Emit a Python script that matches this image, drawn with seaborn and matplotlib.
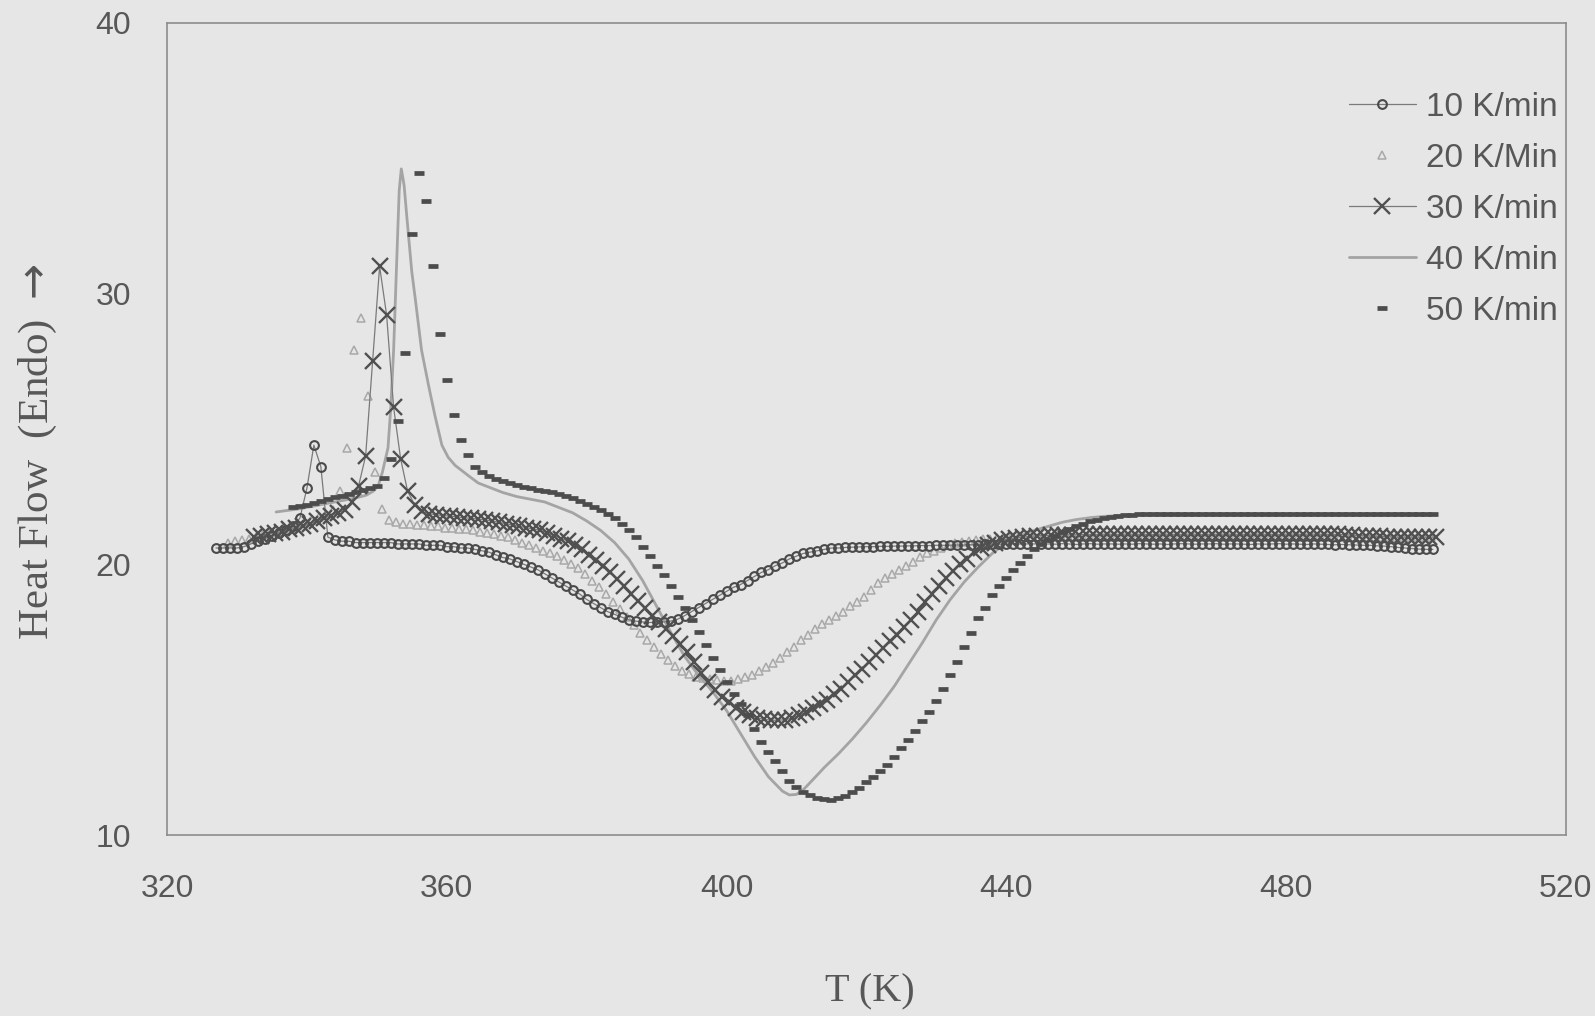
import numpy as np
import pandas as pd
import matplotlib
matplotlib.use("Agg")
import matplotlib.pyplot as plt
import seaborn as sns

# ---------------------------------------------------------------
# DSC heat-flow curves at five heating rates (1 K sampling step)
# ---------------------------------------------------------------
T0_10 = 327.0
hf_10 = [
    20.6, 20.6, 20.6, 20.6, 20.65, 20.75, 20.85, 20.95, 21.05, 21.15,
    21.25, 21.4, 21.7, 22.8, 24.4, 23.6, 21.0, 20.9, 20.85, 20.85,
    20.8, 20.8, 20.8, 20.8, 20.8, 20.8, 20.75, 20.75, 20.75, 20.75,
    20.7, 20.7, 20.7, 20.65, 20.65, 20.6, 20.6, 20.55, 20.5, 20.45,
    20.35, 20.25, 20.2, 20.1, 20.0, 19.9, 19.8, 19.65, 19.5, 19.35,
    19.2, 19.05, 18.9, 18.7, 18.55, 18.4, 18.25, 18.15, 18.05, 17.95,
    17.9, 17.87, 17.85, 17.85, 17.87, 17.9, 17.97, 18.1, 18.25, 18.4,
    18.55, 18.7, 18.85, 19.0, 19.15, 19.25, 19.4, 19.55, 19.7, 19.8,
    19.95, 20.05, 20.2, 20.3, 20.4, 20.45, 20.5, 20.55, 20.6, 20.6,
    20.62, 20.63, 20.64, 20.65, 20.65, 20.66, 20.66, 20.67, 20.67, 20.68,
    20.68, 20.69, 20.69, 20.7, 20.7, 20.7, 20.71, 20.71, 20.72, 20.72,
    20.73, 20.73, 20.74, 20.74, 20.75, 20.75, 20.75, 20.75, 20.75, 20.75,
    20.74, 20.76, 20.75, 20.73, 20.75, 20.76, 20.74, 20.75, 20.75, 20.74,
    20.75, 20.74, 20.76, 20.75, 20.74, 20.75, 20.73, 20.75, 20.76, 20.75,
    20.74, 20.75, 20.75, 20.76, 20.74, 20.75, 20.75, 20.74, 20.73, 20.75,
    20.74, 20.75, 20.76, 20.74, 20.75, 20.74, 20.73, 20.75, 20.74, 20.73,
    20.72, 20.73, 20.72, 20.71, 20.7, 20.7, 20.68, 20.67, 20.65, 20.62,
    20.6, 20.58, 20.56, 20.55, 20.55,
]

T0_20 = 328.7
hf_20 = [
    20.8, 20.85, 20.9, 20.95, 21.0, 21.1, 21.15, 21.2, 21.3, 21.35,
    21.45, 21.55, 21.65, 21.75, 21.85, 22.0, 22.7, 24.3, 27.9, 29.1,
    26.2, 23.4, 22.05, 21.65, 21.55, 21.5, 21.5, 21.45, 21.45, 21.4,
    21.4, 21.35, 21.35, 21.3, 21.3, 21.25, 21.2, 21.15, 21.1, 21.05,
    21.0, 20.9, 20.8, 20.7, 20.6, 20.5, 20.4, 20.3, 20.15, 20.0,
    19.85, 19.65, 19.4, 19.15, 18.9, 18.6, 18.35, 18.05, 17.75, 17.45,
    17.2, 16.95, 16.7, 16.45, 16.25, 16.05, 15.95, 15.85, 15.8, 15.75,
    15.72, 15.7, 15.7, 15.75, 15.82, 15.92, 16.05, 16.2, 16.35, 16.55,
    16.75, 16.95, 17.2, 17.4, 17.6, 17.8, 17.95, 18.1, 18.25, 18.45,
    18.6, 18.8, 19.05, 19.3, 19.5, 19.65, 19.8, 19.95, 20.1, 20.25,
    20.4, 20.5, 20.6, 20.7, 20.78, 20.83, 20.87, 20.9, 20.93, 20.95,
    20.97, 20.98, 21.0, 21.0, 21.01, 21.0, 21.02, 21.0, 21.01, 21.0,
    21.0, 21.01, 20.99, 21.0, 21.02, 21.0, 21.01, 21.0, 20.99, 21.0,
    21.01, 21.0, 21.0, 21.02, 21.0, 20.99, 21.0, 21.01, 21.0, 21.0,
    21.0, 21.01, 21.0, 20.99, 21.0, 21.01, 21.0, 21.0, 21.02, 21.0,
    21.0, 21.01, 21.0, 21.0, 20.99, 21.0, 21.01, 21.0, 21.0, 21.0,
    21.01, 21.0, 20.99, 21.0, 21.0, 21.0, 21.0, 21.0, 21.0, 21.0,
    21.0, 21.0, 21.0,
]

T0_30 = 332.4
hf_30 = [
    21.0, 21.05, 21.1, 21.15, 21.2, 21.3, 21.35, 21.4, 21.5, 21.6,
    21.7, 21.8, 21.9, 22.0, 22.3, 22.9, 24.0, 27.5, 31.0, 29.2,
    25.8, 23.9, 22.7, 22.2, 21.95, 21.87, 21.83, 21.8, 21.78, 21.75,
    21.72, 21.7, 21.67, 21.64, 21.6, 21.55, 21.5, 21.45, 21.4, 21.35,
    21.3, 21.25, 21.15, 21.05, 20.95, 20.85, 20.7, 20.55, 20.35, 20.15,
    19.95, 19.7, 19.45, 19.2, 18.9, 18.65, 18.4, 18.1, 17.85, 17.6,
    17.35, 17.05, 16.75, 16.4, 16.0, 15.65, 15.35, 15.1, 14.9, 14.7,
    14.55, 14.42, 14.33, 14.27, 14.24, 14.24, 14.26, 14.32, 14.42, 14.55,
    14.7, 14.85, 15.0, 15.2, 15.4, 15.65, 15.9, 16.15, 16.4, 16.65,
    16.9, 17.15, 17.4, 17.7, 17.95, 18.25, 18.6, 18.9, 19.2, 19.5,
    19.75, 20.0, 20.2, 20.45, 20.6, 20.7, 20.8, 20.88, 20.93, 20.97,
    21.0, 21.03, 21.05, 21.06, 21.07, 21.08, 21.08, 21.09, 21.09, 21.1,
    21.1, 21.1, 21.11, 21.1, 21.1, 21.12, 21.1, 21.11, 21.1, 21.1,
    21.12, 21.1, 21.11, 21.1, 21.12, 21.1, 21.1, 21.11, 21.1, 21.12,
    21.1, 21.11, 21.1, 21.12, 21.1, 21.11, 21.1, 21.1, 21.12, 21.11,
    21.1, 21.12, 21.1, 21.11, 21.1, 21.1, 21.09, 21.08, 21.06, 21.05,
    21.04, 21.03, 21.02, 21.0, 21.0, 21.0, 21.0, 21.0, 21.0, 21.0,
]

T_40 = [
    335.6, 337.0, 339.0, 341.0, 343.0, 345.0, 347.0, 348.5, 349.5, 350.2,
    350.8, 351.6, 352.0, 352.4, 352.9, 353.2, 353.5, 353.9, 354.3, 355.0,
    355.5, 356.4, 357.4, 358.3, 359.3, 360.2, 361.2, 362.2, 363.2, 364.5,
    366.0, 368.0, 370.0, 372.0, 374.0, 376.0, 378.0, 380.0, 382.0, 384.0,
    386.0, 388.0, 390.0, 392.0, 394.0, 396.0, 398.0, 400.0, 402.0, 404.0,
    406.0, 408.0, 409.0, 410.0, 411.0, 412.0, 414.0, 416.0, 418.0, 420.0,
    422.0, 424.0, 426.0, 428.0, 430.0, 432.0, 434.0, 436.0, 438.0, 440.0,
    442.0, 444.0, 446.0, 448.0, 450.0, 452.0, 454.0, 458.0, 465.0, 480.0,
    501.0,
]
hf_40 = [
    21.93, 21.98, 22.05, 22.15, 22.25, 22.35, 22.45, 22.55, 22.7, 22.9,
    23.4, 24.3, 25.8, 27.9, 31.6, 33.8, 34.6, 34.0, 32.8, 30.8,
    29.8, 27.9, 26.6, 25.5, 24.4, 23.95, 23.65, 23.45, 23.25, 23.0,
    22.85, 22.65, 22.5, 22.4, 22.3, 22.1, 21.9, 21.6, 21.25, 20.8,
    20.2, 19.4, 18.45, 17.5, 16.6, 15.9, 15.3, 14.6, 13.75, 12.9,
    12.15, 11.62, 11.48, 11.5, 11.68, 11.95, 12.5, 13.0, 13.55, 14.15,
    14.8, 15.5, 16.3, 17.1, 17.95, 18.7, 19.35, 19.9, 20.4, 20.8,
    21.05, 21.25, 21.4, 21.55, 21.65, 21.72, 21.77, 21.82, 21.84, 21.84,
    21.84,
]

T0_50 = 338.0
hf_50 = [
    22.1, 22.15, 22.2, 22.27, 22.33, 22.4, 22.47, 22.53, 22.6, 22.67,
    22.73, 22.8, 22.9, 23.2, 23.9, 25.3, 27.8, 32.2, 34.45, 33.4,
    31.0, 28.5, 26.8, 25.5, 24.6, 24.05, 23.6, 23.42, 23.25, 23.15,
    23.07, 23.0, 22.93, 22.87, 22.81, 22.75, 22.7, 22.65, 22.6, 22.52,
    22.43, 22.34, 22.24, 22.12, 22.0, 21.85, 21.7, 21.5, 21.25, 21.0,
    20.65, 20.3, 19.95, 19.6, 19.2, 18.8, 18.4, 17.95, 17.5, 17.0,
    16.55, 16.1, 15.65, 15.2, 14.85, 14.45, 13.9, 13.45, 13.05, 12.75,
    12.35, 12.0, 11.78, 11.6, 11.47, 11.38, 11.32, 11.3, 11.35, 11.45,
    11.6, 11.75, 11.95, 12.15, 12.35, 12.6, 12.9, 13.2, 13.5, 13.85,
    14.2, 14.55, 14.95, 15.4, 15.9, 16.4, 16.95, 17.45, 18.0, 18.4,
    18.85, 19.2, 19.5, 19.8, 20.05, 20.3, 20.55, 20.75, 20.9, 21.05,
    21.2, 21.3, 21.4, 21.5, 21.58, 21.65, 21.72, 21.76, 21.79, 21.81,
    21.83, 21.84, 21.85, 21.85, 21.85, 21.85, 21.85, 21.85, 21.85, 21.85,
    21.85, 21.85, 21.85, 21.85, 21.85, 21.85, 21.85, 21.85, 21.85, 21.85,
    21.85, 21.85, 21.85, 21.85, 21.85, 21.85, 21.85, 21.85, 21.85, 21.85,
    21.85, 21.85, 21.85, 21.85, 21.85, 21.85, 21.85, 21.85, 21.85, 21.85,
    21.85, 21.85, 21.85, 21.85,
]

labels = ["10 K/min", "20 K/Min", "30 K/min", "40 K/min", "50 K/min"]

x_ticks = [320, 360, 400, 440, 480, 520]
y_ticks = [10, 20, 30, 40]


def grid(t0, values):
    return t0 + np.arange(len(values), dtype=float)


frames = {
    labels[0]: pd.DataFrame({"T": grid(T0_10, hf_10), "HF": hf_10}),
    labels[1]: pd.DataFrame({"T": grid(T0_20, hf_20), "HF": hf_20}),
    labels[2]: pd.DataFrame({"T": grid(T0_30, hf_30), "HF": hf_30}),
    labels[3]: pd.DataFrame({"T": T_40, "HF": hf_40}),
    labels[4]: pd.DataFrame({"T": grid(T0_50, hf_50), "HF": hf_50}),
}

# ---------------------------------------------------------------
# Figure
# ---------------------------------------------------------------
sns.set_theme(style="white")
plt.rcParams["font.family"] = ["Liberation Sans", "DejaVu Sans"]

BG = "#e6e6e6"
fig = plt.figure(figsize=(15.95, 10.16), dpi=100, facecolor=BG)
ax = fig.add_axes([0.1047, 0.1781, 0.877, 0.7996])
ax.set_facecolor(BG)

# 40 K/min: plain grey line
sns.lineplot(data=frames[labels[3]], x="T", y="HF", ax=ax, sort=False,
             color="#a4a4a4", lw=2.0, label=labels[3], zorder=2)
# 20 K/min: open triangles, no connecting line
sns.lineplot(data=frames[labels[1]], x="T", y="HF", ax=ax, sort=False,
             color="#a8a8a8", ls="none", marker="^", ms=6, mfc="none",
             mec="#a8a8a8", mew=1.1, label=labels[1], zorder=3)
# 10 K/min: open circles on a thin line
sns.lineplot(data=frames[labels[0]], x="T", y="HF", ax=ax, sort=False,
             color="#7a7a7a", lw=0.9, marker="o", ms=6.3, mfc="none",
             mec="#4a4a4a", mew=1.5, label=labels[0], zorder=4)
# 30 K/min: crosses on a thin line
sns.lineplot(data=frames[labels[2]], x="T", y="HF", ax=ax, sort=False,
             color="#7a7a7a", lw=0.9, marker="x", ms=11, mec="#505050",
             mew=1.7, label=labels[2], zorder=5)
# 50 K/min: short dashes only
sns.lineplot(data=frames[labels[4]], x="T", y="HF", ax=ax, sort=False,
             color="#4c4c4c", ls="none", marker="_", ms=7, mew=3.4,
             mec="#4c4c4c", label=labels[4], zorder=6)

ax.set_xlim(320, 520)
ax.set_ylim(10, 40)
ax.set_xticks(np.arange(320, 521, 20))
ax.set_xticklabels([str(v) if v in x_ticks else "" for v in range(320, 521, 20)])
ax.set_yticks(np.arange(10, 41, 5))
ax.set_yticklabels([str(v) if v in y_ticks else "" for v in range(10, 41, 5)])

TXT = "#575757"
ax.tick_params(axis="both", direction="in", length=6, width=1.0,
               color="#8c8c8c", labelcolor=TXT, labelsize=23)
ax.tick_params(axis="x", pad=28)
ax.tick_params(axis="y", pad=26)

for s in ax.spines.values():
    s.set_visible(True)
    s.set_color("#8c8c8c")
    s.set_linewidth(1.2)

serif = ["Liberation Serif", "DejaVu Serif"]
ax.set_xlabel("T (K)", family=serif, fontsize=29, color=TXT)
ax.set_ylabel("Heat Flow  (Endo) $\\rightarrow$", family=serif, fontsize=31,
              color=TXT)
ax.xaxis.set_label_coords(0.5025, -0.193)
ax.xaxis.label.set_va("center")
ax.yaxis.set_label_coords(-0.092, 0.472)
ax.yaxis.label.set_va("center")

# legend in the original series order
handles, labs = ax.get_legend_handles_labels()
order = [labs.index(l) for l in labels]
leg = ax.legend([handles[i] for i in order], [labs[i] for i in order],
                loc="upper right", bbox_to_anchor=(0.994, 0.915),
                frameon=False, fontsize=24, handlelength=2.0,
                handletextpad=0.3, labelspacing=0.6, borderpad=0,
                borderaxespad=0, numpoints=1)
for t in leg.get_texts():
    t.set_color(TXT)

fig.savefig("out.png", dpi=100, facecolor=BG)
